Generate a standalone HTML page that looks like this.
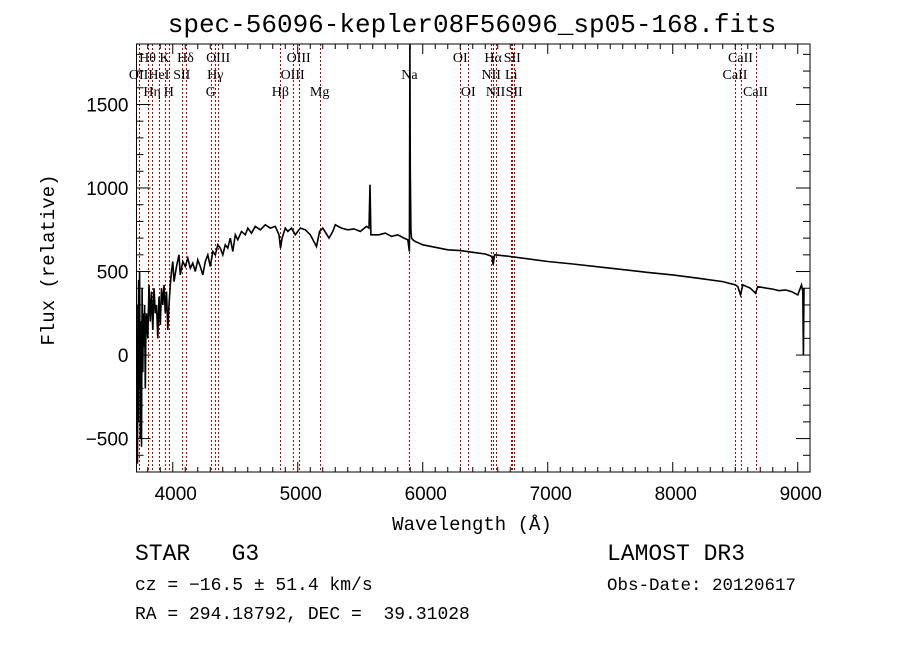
<!DOCTYPE html>
<html><head><meta charset="utf-8">
<style>
html,body{margin:0;padding:0;background:#fff;}
svg{display:block;}
text{fill:#000;}
</style></head>
<body>
<svg id="chart" width="900" height="649" viewBox="0 0 900 649">
<defs><clipPath id="plotclip"><rect x="136.5" y="44" width="673.5" height="428"/></clipPath></defs>
<rect x="0" y="0" width="900" height="649" fill="#fff"/>
<text x="472" y="32" font-family="Liberation Mono, monospace" font-size="26" text-anchor="middle">spec-56096-kepler08F56096_sp05-168.fits</text>
<g id="lines" clip-path="url(#plotclip)"></g>
<g id="linelabels"></g>
<g id="series" clip-path="url(#plotclip)"></g>
<g id="axes"></g>
<text x="472" y="530" font-family="Liberation Mono, monospace" font-size="19" text-anchor="middle">Wavelength (Å)</text>
<text transform="translate(54,260) rotate(-90)" font-family="Liberation Mono, monospace" font-size="19" text-anchor="middle">Flux (relative)</text>
<text x="135" y="560" font-family="Liberation Mono, monospace" font-size="23" xml:space="preserve">STAR   G3</text>
<text x="135" y="590" font-family="Liberation Mono, monospace" font-size="18">cz = −16.5 ± 51.4 km/s</text>
<text x="135" y="619" font-family="Liberation Mono, monospace" font-size="18" xml:space="preserve">RA = 294.18792, DEC =  39.31028</text>
<text x="607" y="560" font-family="Liberation Mono, monospace" font-size="23">LAMOST DR3</text>
<text x="607" y="590" font-family="Liberation Mono, monospace" font-size="17.5">Obs-Date: 20120617</text>
</svg>
<script>
const waves=[3712,3715,3718,3721,3724,3727,3730,3735,3740,3745,
3750,3755,3760,3765,3770,3775,3780,3785,3790,3800,
3810,3820,3830,3840,3850,3860,3870,3880,3890,3900,
3910,3920,3930,3940,3950,3960,3970,3980,3990,4000,
4010,4030,4050,4060,4080,4100,4120,4140,4160,4180,
4200,4220,4240,4260,4280,4300,4320,4340,4360,4380,
4400,4420,4440,4460,4480,4500,4520,4550,4580,4600,
4630,4660,4700,4740,4780,4820,4850,4862,4875,4900,
4920,4950,4980,5000,5020,5060,5100,5150,5175,5200,
5250,5280,5300,5350,5400,5450,5500,5550,5570,5578,
5585,5600,5650,5700,5750,5800,5850,5880,5893,5897,
5900,5905,5910,5920,5940,6000,6100,6200,6300,6400,
6500,6555,6563,6575,6700,6800,7000,7200,7500,7800,
8000,8200,8400,8500,8520,8542,8560,8620,8662,8680,
8750,8800,8850,8900,8950,9000,9030,9040,9045,9050];
const flux=[-300,100,-650,300,-400,450,-200,500,-500,200,
-550,400,-100,250,50,300,-200,150,250,100,
420,200,380,150,400,250,300,100,350,180,
400,300,420,250,380,150,300,420,500,560,
440,530,600,480,560,530,580,520,550,500,
570,530,480,560,600,530,620,600,660,640,
600,660,640,700,620,720,690,740,720,760,
730,770,750,780,760,770,720,640,700,760,
740,760,720,740,760,750,720,650,740,760,
700,740,780,760,750,755,740,770,760,1020,
720,720,720,730,710,720,700,690,620,1850,
1100,750,700,690,680,660,645,630,625,615,
605,590,540,600,590,580,560,545,520,495,
480,460,440,420,410,360,420,400,370,410,
400,395,385,390,380,360,420,380,0,400];
const lineWaves=[3727,3798,3835,3889,3934,3968,4072,4102,4304,4340,4363,4861,4959,5007,5175,5893,6300,6364,6548,6563,6583,6708,6716,6731,8498,8542,8662];
const labelNames=["OII","Hθ","Hη","HeI","K","H","SII","Hδ","G","Hγ","OIII","Hβ","OIII","OIII","Mg","Na","OI","OI","NII","Hα","NII","Li","SII","SII","CaII","CaII","CaII"];
const labelRows=[1,0,2,1,0,2,1,0,2,1,0,2,1,0,2,1,0,2,1,0,2,1,0,2,1,0,2];
const xTicks=[4000,5000,6000,7000,8000,9000];
const yTicks=[-500,0,500,1000,1500];

const L=136.5,R=810,T=44,B=472;
const xMin=3710,xMax=9098,yMin=-700,yMax=1862;
const xs=w=>L+(w-xMin)/(xMax-xMin)*(R-L);
const ys=f=>B-(f-yMin)/(yMax-yMin)*(B-T);
const NS="http://www.w3.org/2000/svg";
function mk(tag,attrs,parent){const e=document.createElementNS(NS,tag);for(const k in attrs)e.setAttribute(k,attrs[k]);parent.appendChild(e);return e;}

const gl=document.getElementById('lines');
const glab=document.getElementById('linelabels');
lineWaves.forEach((w,i)=>{
  const x=Math.round(xs(w))+0.5;
  const l=mk('line',{x1:x,x2:x,y1:T,y2:B,stroke:'#c00000','stroke-width':1,'stroke-dasharray':'2,2'},gl);
  
  
  const t=mk('text',{x:xs(w),y:62+labelRows[i]*17,'font-family':'Liberation Serif, serif','font-size':14,'text-anchor':'middle'},glab);
  t.textContent=labelNames[i];
  
  
});

const gs=document.getElementById('series');
let d='';
waves.forEach((w,i)=>{d+=(i?'L':'M')+xs(w).toFixed(1)+','+ys(flux[i]).toFixed(1);});
const p=mk('path',{d:d,fill:'none',stroke:'#000','stroke-width':1.6},gs);



const ga=document.getElementById('axes');
const box=mk('rect',{x:L,y:T,width:R-L,height:B-T,fill:'none',stroke:'#000','stroke-width':1},ga);


for(let w=3800;w<=9000;w+=100){
  const big=w%1000===0;const len=big?10:5;
  mk('line',{x1:xs(w),x2:xs(w),y1:B,y2:B-len,stroke:'#000'},ga);
  mk('line',{x1:xs(w),x2:xs(w),y1:T,y2:T+len,stroke:'#000'},ga);
}
for(let f=-700;f<=1800;f+=100){
  const big=f%500===0;const len=big?14:7;
  mk('line',{x1:L,x2:L+len,y1:ys(f),y2:ys(f),stroke:'#000'},ga);
  mk('line',{x1:R,x2:R-len,y1:ys(f),y2:ys(f),stroke:'#000'},ga);
}
xTicks.forEach(v=>{
  const t=mk('text',{x:xs(v)+3,y:B+28,'font-family':'Liberation Sans, sans-serif','font-size':19,'text-anchor':'middle'},ga);
  t.textContent=v;
  
  
});
yTicks.forEach(v=>{
  const t=mk('text',{x:L-8,y:ys(v)+7,'font-family':'Liberation Sans, sans-serif','font-size':19,'text-anchor':'end'},ga);
  t.textContent=v<0?'−'+Math.abs(v):v;
  
  
});
</script>
</body></html>
